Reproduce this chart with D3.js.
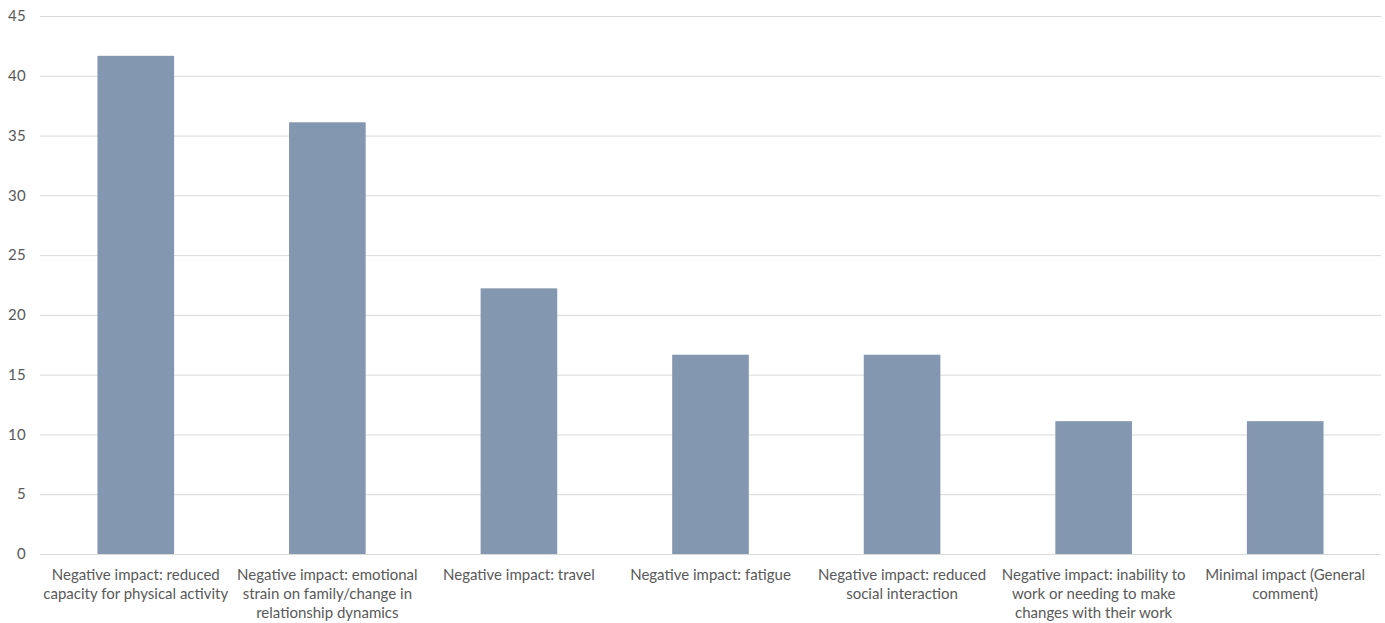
<!DOCTYPE html>
<html><head><meta charset="utf-8">
<script src="https://cdn.jsdelivr.net/npm/d3@7"></script>
<style>body{margin:0;background:#fff}svg{display:block}</style>
</head><body>
<script>
// "\n" marks where the reference wraps each category label
const categories = [
  "Negative impact: reduced\ncapacity for physical activity",
  "Negative impact: emotional\nstrain on family/change in\nrelationship dynamics",
  "Negative impact: travel",
  "Negative impact: fatigue",
  "Negative impact: reduced\nsocial interaction",
  "Negative impact: inability to\nwork or needing to make\nchanges with their work",
  "Minimal impact (General\ncomment)"
];
const values = [41.67, 36.11, 22.22, 16.67, 16.67, 11.11, 11.11];
const yTicks = [0, 5, 10, 15, 20, 25, 30, 35, 40, 45];

const W = 1385, H = 623;
const m = {left: 40, right: 4, top: 16, bottom: 69};
const svg = d3.select("body").append("svg").attr("width", W).attr("height", H);
const font = "Lato, 'Open Sans', sans-serif";

const x = d3.scaleBand().domain(categories).range([m.left, W - m.right]).paddingInner(0.6).paddingOuter(0.3);
const y = d3.scaleLinear().domain([0, 45]).range([H - m.bottom, m.top]);

// gridlines
svg.append("g").selectAll("line").data(yTicks).join("line")
  .attr("x1", m.left).attr("x2", W - m.right)
  .attr("y1", d => y(d) + 0.5).attr("y2", d => y(d) + 0.5)
  .attr("stroke", "#d9d9d9").attr("stroke-width", 1);

// y labels
svg.append("g").selectAll("text").data(yTicks).join("text")
  .attr("x", 26).attr("y", d => y(d)).attr("dy", "0.35em")
  .attr("text-anchor", "end").attr("font-family", font).attr("font-size", 15)
  .attr("letter-spacing", 0.3)
  .attr("fill", "#595959").text(d => d);

// bars
svg.append("g").selectAll("rect").data(values).join("rect")
  .attr("x", (d, i) => x(categories[i])).attr("width", x.bandwidth())
  .attr("y", d => y(d)).attr("height", d => y(0) - y(d))
  .attr("fill", "#8497b0");

// x labels
const g = svg.append("g");
categories.forEach(c => {
  const t = g.append("text").attr("font-family", font).attr("font-size", 15)
    .attr("fill", "#595959").attr("text-anchor", "middle");
  const cx = x(c) + x.bandwidth() / 2;
  c.split("\n").forEach((l, i) => {
    t.append("tspan").attr("x", cx).attr("y", H - m.bottom + 26 + i * 19).text(l);
  });
});
</script>
</body></html>
